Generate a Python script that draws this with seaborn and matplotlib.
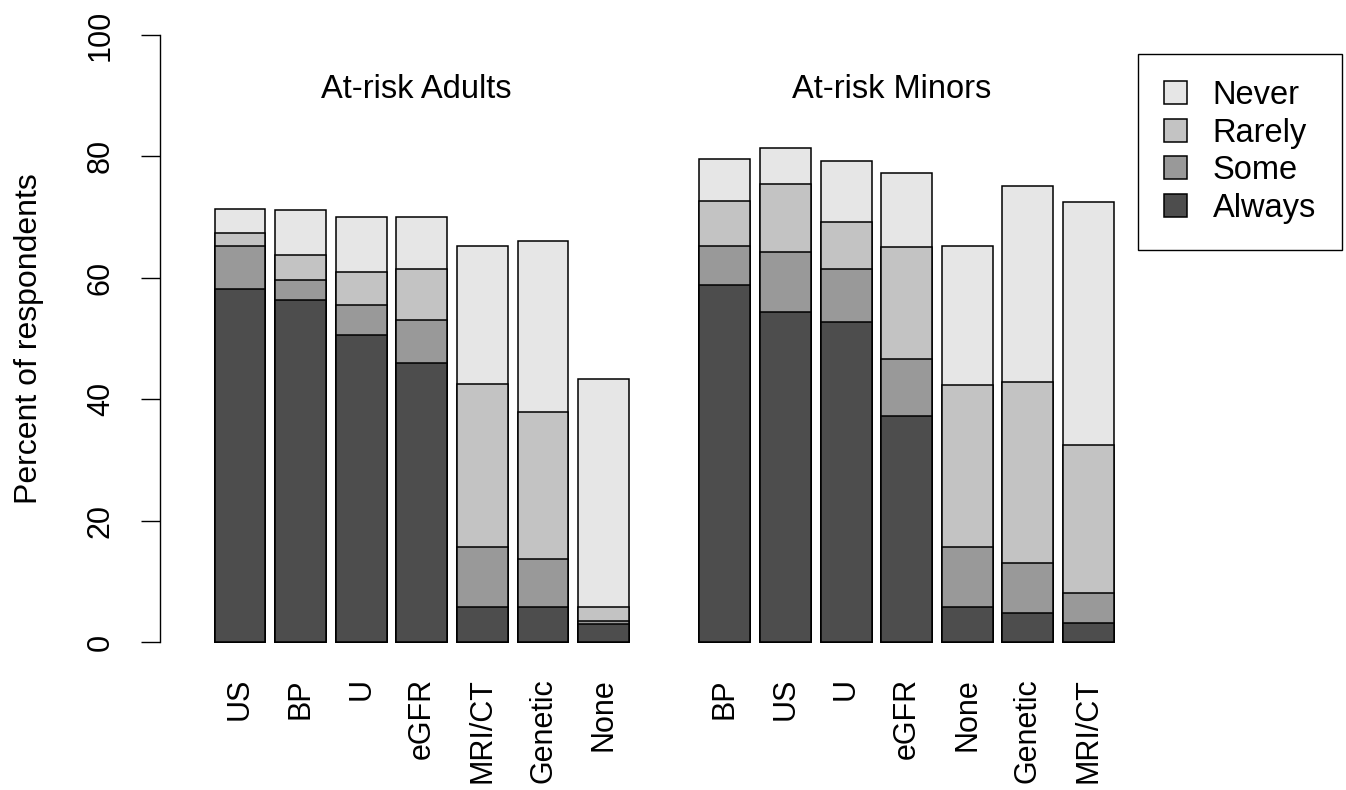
import pandas as pd
import matplotlib.pyplot as plt
import seaborn as sns
from matplotlib.patches import Patch

# data (percent of respondents)
levels = ["Always", "Some", "Rarely", "Never"]
colors = {"Always": "#4D4D4D", "Some": "#999999", "Rarely": "#C3C3C3", "Never": "#E6E6E6"}

adult_tests = ["US", "BP", "U", "eGFR", "MRI/CT", "Genetic", "None"]
adult_always = [58.2, 56.3, 50.6, 46.0, 5.7, 5.7, 3.0]
adult_some = [7.1, 3.3, 4.9, 7.0, 10.0, 7.9, 0.5]
adult_rarely = [2.0, 4.2, 5.5, 8.5, 26.8, 24.3, 2.2]
adult_never = [4.0, 7.3, 9.0, 8.5, 22.8, 28.2, 37.6]

minor_tests = ["BP", "US", "U", "eGFR", "None", "Genetic", "MRI/CT"]
minor_always = [58.8, 54.4, 52.8, 37.3, 5.7, 4.8, 3.2]
minor_some = [6.4, 9.9, 8.7, 9.4, 10.0, 8.2, 4.9]
minor_rarely = [7.4, 11.1, 7.7, 18.3, 26.7, 29.8, 24.3]
minor_never = [6.9, 6.0, 10.0, 12.3, 22.9, 32.4, 40.1]

rows = []
for group, tests, series in [
    ("At-risk Adults", adult_tests, [adult_always, adult_some, adult_rarely, adult_never]),
    ("At-risk Minors", minor_tests, [minor_always, minor_some, minor_rarely, minor_never]),
]:
    offset = 0 if group == "At-risk Adults" else len(adult_tests) + 1
    for i, t in enumerate(tests):
        cum = 0
        for lev, vals in zip(levels, series):
            cum += vals[i]
            rows.append({"group": group, "test": t, "pos": offset + i, "level": lev, "cum": cum})
df = pd.DataFrame(rows)

plt.rcParams["font.family"] = ["Liberation Sans", "DejaVu Sans"]
fs_tick = 22
fs_text = 23.5

fig = plt.figure(figsize=(13.46, 7.9), dpi=100)
ax = fig.add_axes([160 / 1346, 1 - 666.3 / 790, 980 / 1346, 655.6 / 790])

# stacked bars: draw cumulative heights from the top level down
for lev in reversed(levels):
    d = df[df["level"] == lev]
    sns.barplot(data=d, x="pos", y="cum", native_scale=True, orient="x", width=0.84,
                color=colors[lev], edgecolor="black", linewidth=1.1, saturation=1, ax=ax)

ax.set_xlim(-1.32, 14.85)
ax.set_ylim(-4, 104)
ax.set_yticks([0, 20, 40, 60, 80, 100])
ax.set_yticklabels(["0", "20", "40", "60", "80", "100"], rotation=90, va="center", ha="right")
positions = sorted(df["pos"].unique())
labels = adult_tests + minor_tests
ax.set_xticks(positions)
ax.set_xticklabels(labels, rotation=90, va="top")
ax.tick_params(axis="x", length=0, pad=8.5, labelsize=fs_tick)
ax.tick_params(axis="y", length=13.7, width=1, pad=18, labelsize=fs_tick)
for s in ["top", "right", "bottom"]:
    ax.spines[s].set_visible(False)
ax.spines["left"].set_bounds(0, 100)
ax.spines["left"].set_linewidth(1)
ax.set_xlabel("")
ax.set_ylabel("Percent of respondents", fontsize=23)
ax.yaxis.set_label_coords(-116 / 980, 0.5)

ax.text(2.9, 91.0, "At-risk Adults", ha="center", va="center", fontsize=fs_text)
ax.text(10.75, 91.0, "At-risk Minors", ha="center", va="center", fontsize=fs_text)

handles = [Patch(facecolor=colors[l], edgecolor="black", linewidth=1.1) for l in reversed(levels)]
leg = fig.legend(handles, list(reversed(levels)), loc="upper right",
                 bbox_to_anchor=(1342 / 1346, 1 - 54 / 790), borderaxespad=0,
                 fontsize=fs_text, handlelength=0.7, handleheight=0.7, handletextpad=0.8,
                 labelspacing=0.2, borderpad=0.8, fancybox=False, framealpha=1)
leg.get_frame().set_edgecolor("black")
leg.get_frame().set_linewidth(1)

fig.savefig("out.png", dpi=100)
